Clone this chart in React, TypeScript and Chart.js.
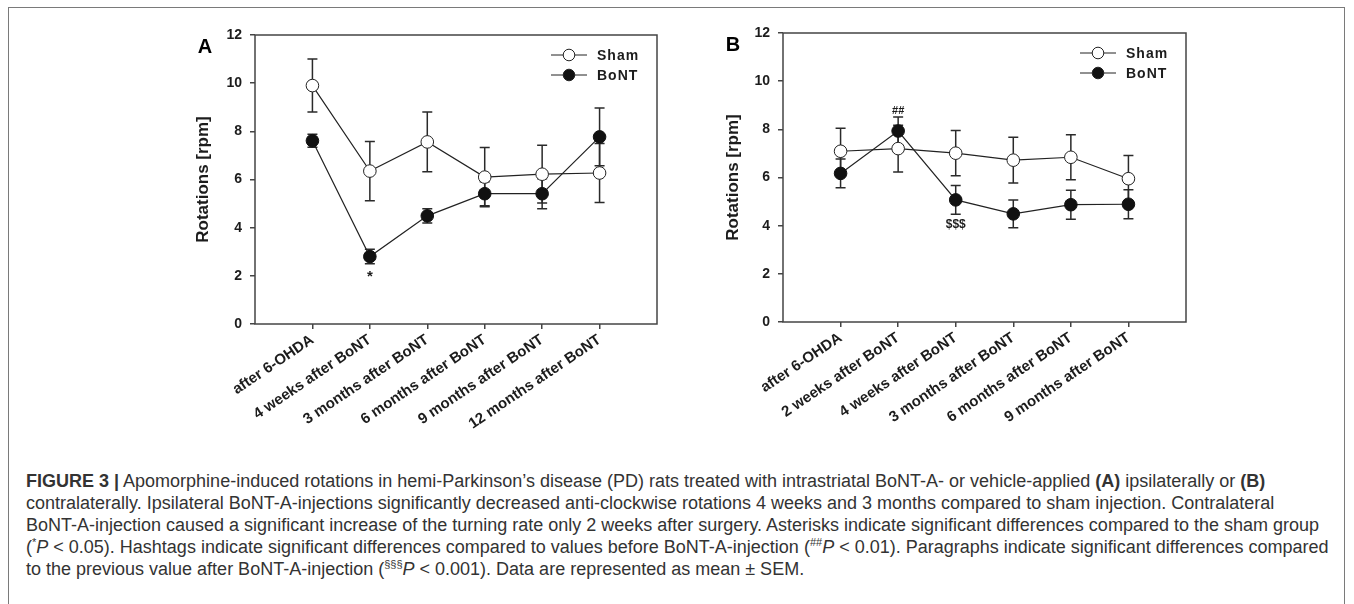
import React, { useEffect, useRef } from 'react';
import { Chart, registerables } from 'chart.js';

Chart.register(...registerables);

// ---------- data ----------
const categoriesA = ['after 6-OHDA', '4 weeks after BoNT', '3 months after BoNT', '6 months after BoNT', '9 months after BoNT', '12 months after BoNT'];
const shamA = [9.9, 6.35, 7.56, 6.1, 6.22, 6.27];
const shamSemA = [1.1, 1.23, 1.24, 1.23, 1.2, 1.23];
const bontA = [7.61, 2.8, 4.49, 5.41, 5.41, 7.77];
const bontSemA = [0.27, 0.3, 0.3, 0.5, 0.62, 1.2];

const categoriesB = ['after 6-OHDA', '2 weeks after BoNT', '4 weeks after BoNT', '3 months after BoNT', '6 months after BoNT', '9 months after BoNT'];
const shamB = [7.09, 7.2, 7.01, 6.72, 6.84, 5.95];
const shamSemB = [0.95, 0.97, 0.94, 0.95, 0.93, 0.96];
const bontB = [6.17, 7.93, 5.07, 4.49, 4.87, 4.89];
const bontSemB = [0.6, 0.58, 0.6, 0.58, 0.6, 0.6];

const yTicks = [0, 2, 4, 6, 8, 10, 12];
const seriesNames = ['Sham', 'BoNT'];
const yTitle = 'Rotations [rpm]';

const marksA = [{ series: 1, index: 1, text: '*', side: 'below' }];
const marksB = [
  { series: 1, index: 1, text: '##', side: 'above' },
  { series: 1, index: 2, text: '$$$', side: 'below' },
];

const FONT = "'Liberation Sans', Arial, Helvetica, sans-serif";
const INK = '#1c1c1c';

type PanelProps = {
  letter: string;
  categories: string[];
  sham: number[];
  shamSem: number[];
  bont: number[];
  bontSem: number[];
  marks: { series: number; index: number; text: string; side: string }[];
  left: number;
  width: number;
  height: number;
  padTop: number;
  padRight: number;
  xAxisHeight: number;
  titlePad: number;
};

function Panel(p: PanelProps) {
  const ref = useRef<HTMLCanvasElement | null>(null);

  useEffect(() => {
    if (!ref.current) return;
    const vals = [p.sham, p.bont];
    const sems = [p.shamSem, p.bontSem];
    const fills = ['#ffffff', '#111111'];

    const plugin = {
      id: 'custom' + p.letter,
      beforeDatasetsDraw(chart: any) {
        const ctx = chart.ctx;
        const ys = chart.scales.y;
        ctx.save();
        ctx.strokeStyle = '#2a2a2a';
        ctx.lineWidth = 1.5;
        [0, 1].forEach((d) => {
          const meta = chart.getDatasetMeta(d);
          meta.data.forEach((pt: any, j: number) => {
            const x = pt.x;
            const t = ys.getPixelForValue(vals[d][j] + sems[d][j]);
            const b = ys.getPixelForValue(vals[d][j] - sems[d][j]);
            ctx.beginPath();
            ctx.moveTo(x, t);
            ctx.lineTo(x, b);
            ctx.moveTo(x - 5, t);
            ctx.lineTo(x + 5, t);
            ctx.moveTo(x - 5, b);
            ctx.lineTo(x + 5, b);
            ctx.stroke();
          });
        });
        ctx.restore();
      },
      afterDatasetsDraw(chart: any) {
        const ctx = chart.ctx;
        const ys = chart.scales.y;
        ctx.save();
        ctx.fillStyle = INK;
        ctx.textAlign = 'center';
        p.marks.forEach((m) => {
          const meta = chart.getDatasetMeta(m.series);
          const x = meta.data[m.index].x;
          const v = vals[m.series][m.index];
          const s = sems[m.series][m.index];
          if (m.side === 'below') {
            const y = ys.getPixelForValue(v - s);
            ctx.font = `bold ${m.text === '*' ? 15 : 12}px ${FONT}`;
            ctx.textBaseline = 'top';
            ctx.fillText(m.text, x, y + (m.text === '*' ? 6 : 4));
          } else {
            const y = ys.getPixelForValue(v + s);
            ctx.font = `bold 11px ${FONT}`;
            ctx.textBaseline = 'alphabetic';
            ctx.fillText(m.text, x, y - 3);
          }
        });
        ctx.restore();
      },
      afterDraw(chart: any) {
        const ctx = chart.ctx;
        const a = chart.chartArea;
        ctx.save();
        // frame
        ctx.strokeStyle = '#444';
        ctx.lineWidth = 1.5;
        ctx.strokeRect(a.left, a.top, a.right - a.left, a.bottom - a.top);
        // legend
        const mx = a.right - 88;
        seriesNames.forEach((name, i) => {
          const y = a.top + 20 + i * 20;
          ctx.strokeStyle = '#222';
          ctx.lineWidth = 1;
          ctx.beginPath();
          ctx.moveTo(mx - 18, y);
          ctx.lineTo(mx + 18, y);
          ctx.stroke();
          ctx.beginPath();
          ctx.arc(mx, y, 5.8, 0, Math.PI * 2);
          ctx.fillStyle = fills[i];
          ctx.fill();
          ctx.stroke();
          ctx.fillStyle = INK;
          ctx.font = `bold 14px ${FONT}`;
          (ctx as any).letterSpacing = '1px';
          ctx.textAlign = 'left';
          ctx.textBaseline = 'middle';
          ctx.fillText(name, mx + 28, y + 1);
          (ctx as any).letterSpacing = '0px';
        });
        // panel letter
        ctx.fillStyle = '#000';
        ctx.font = `bold 20px ${FONT}`;
        ctx.textAlign = 'center';
        ctx.textBaseline = 'middle';
        ctx.fillText(p.letter, a.left - 50, a.top + 12);
        ctx.restore();
      },
    };

    const tickFontX = { family: FONT, size: 15, weight: 'bold' as const };
    const tickFontY = { family: FONT, size: 14, weight: 'bold' as const };
    const gridCfg = { display: true, drawOnChartArea: false, drawTicks: true, tickLength: 5, color: '#444', lineWidth: 1.5 };

    const chart = new Chart(ref.current, {
      type: 'line',
      data: {
        datasets: [
          {
            label: seriesNames[0],
            data: p.sham.map((v, i) => ({ x: i + 1, y: v })),
            borderColor: '#222',
            borderWidth: 1.2,
            pointRadius: 6.3,
            pointBackgroundColor: fills[0],
            pointBorderColor: '#222',
            pointBorderWidth: 1,
            fill: false,
            tension: 0,
          },
          {
            label: seriesNames[1],
            data: p.bont.map((v, i) => ({ x: i + 1, y: v })),
            borderColor: '#222',
            borderWidth: 1.2,
            pointRadius: 6.3,
            pointBackgroundColor: fills[1],
            pointBorderColor: '#111',
            pointBorderWidth: 1,
            fill: false,
            tension: 0,
          },
        ],
      },
      options: {
        responsive: false,
        animation: false,
        layout: { padding: { top: p.padTop, right: p.padRight, left: 0, bottom: 0 } },
        plugins: { legend: { display: false }, tooltip: { enabled: false } },
        scales: {
          x: {
            type: 'linear',
            min: 0,
            max: p.categories.length + 1,
            afterBuildTicks: (s: any) => {
              s.ticks = p.categories.map((_, i) => ({ value: i + 1 }));
            },
            afterFit: (s: any) => {
              s.height = p.xAxisHeight;
            },
            ticks: {
              autoSkip: false,
              minRotation: 34,
              maxRotation: 34,
              padding: 2,
              color: INK,
              font: tickFontX,
              callback: (v: any) => p.categories[Math.round(Number(v)) - 1] ?? '',
            },
            grid: gridCfg,
            border: { display: false },
          },
          y: {
            type: 'linear',
            min: 0,
            max: 12,
            afterBuildTicks: (s: any) => {
              s.ticks = yTicks.map((v) => ({ value: v }));
            },
            afterFit: (s: any) => {
              s.width = 115;
            },
            ticks: { padding: 8, color: INK, font: tickFontY },
            title: {
              display: true,
              text: yTitle,
              color: INK,
              font: { family: FONT, size: 17, weight: 'bold' },
              padding: { top: p.titlePad, bottom: 0 },
            },
            grid: gridCfg,
            border: { display: false },
          },
        },
      },
      plugins: [plugin],
    } as any);

    return () => chart.destroy();
  }, []);

  return (
    <canvas
      ref={ref}
      width={p.width}
      height={p.height}
      style={{ position: 'fixed', left: p.left, top: 0, width: p.width, height: p.height }}
    />
  );
}

const sup: React.CSSProperties = { fontSize: '11px', verticalAlign: '7px', lineHeight: 0 };

export default function App() {
  return (
    <div>
      <div
        style={{
          position: 'fixed',
          left: 8,
          top: 7,
          width: 1337,
          height: 620,
          border: '1px solid #7a7a7a',
          boxSizing: 'border-box',
          background: '#fff',
        }}
      />
      <Panel
        letter="A"
        categories={categoriesA}
        sham={shamA}
        shamSem={shamSemA}
        bont={bontA}
        bontSem={bontSemA}
        marks={marksA}
        left={140}
        width={540}
        height={445}
        padTop={35}
        padRight={23}
        xAxisHeight={121}
        titlePad={53}
      />
      <Panel
        letter="B"
        categories={categoriesB}
        sham={shamB}
        shamSem={shamSemB}
        bont={bontB}
        bontSem={bontSemB}
        marks={marksB}
        left={668}
        width={540}
        height={445}
        padTop={33}
        padRight={22}
        xAxisHeight={123}
        titlePad={55}
      />
      <div
        style={{
          position: 'fixed',
          left: 26,
          top: 470,
          fontFamily: FONT,
          fontSize: 18,
          lineHeight: '22px',
          color: '#333',
          whiteSpace: 'nowrap',
        }}
      >
        <div>
          <b>FIGURE 3 |</b> Apomorphine-induced rotations in hemi-Parkinson’s disease (PD) rats treated with intrastriatal BoNT-A- or vehicle-applied <b>(A)</b> ipsilaterally or <b>(B)</b>
        </div>
        <div>
          contralaterally. Ipsilateral BoNT-A-injections significantly decreased anti-clockwise rotations 4 weeks and 3 months compared to sham injection. Contralateral
        </div>
        <div>
          BoNT-A-injection caused a significant increase of the turning rate only 2 weeks after surgery. Asterisks indicate significant differences compared to the sham group
        </div>
        <div>
          (<span style={sup}>*</span><i>P</i> &lt; 0.05). Hashtags indicate significant differences compared to values before BoNT-A-injection (<span style={sup}>##</span><i>P</i> &lt; 0.01). Paragraphs indicate significant differences compared
        </div>
        <div>
          to the previous value after BoNT-A-injection (<span style={sup}>§§§</span><i>P</i> &lt; 0.001). Data are represented as mean ± SEM.
        </div>
      </div>
    </div>
  );
}
